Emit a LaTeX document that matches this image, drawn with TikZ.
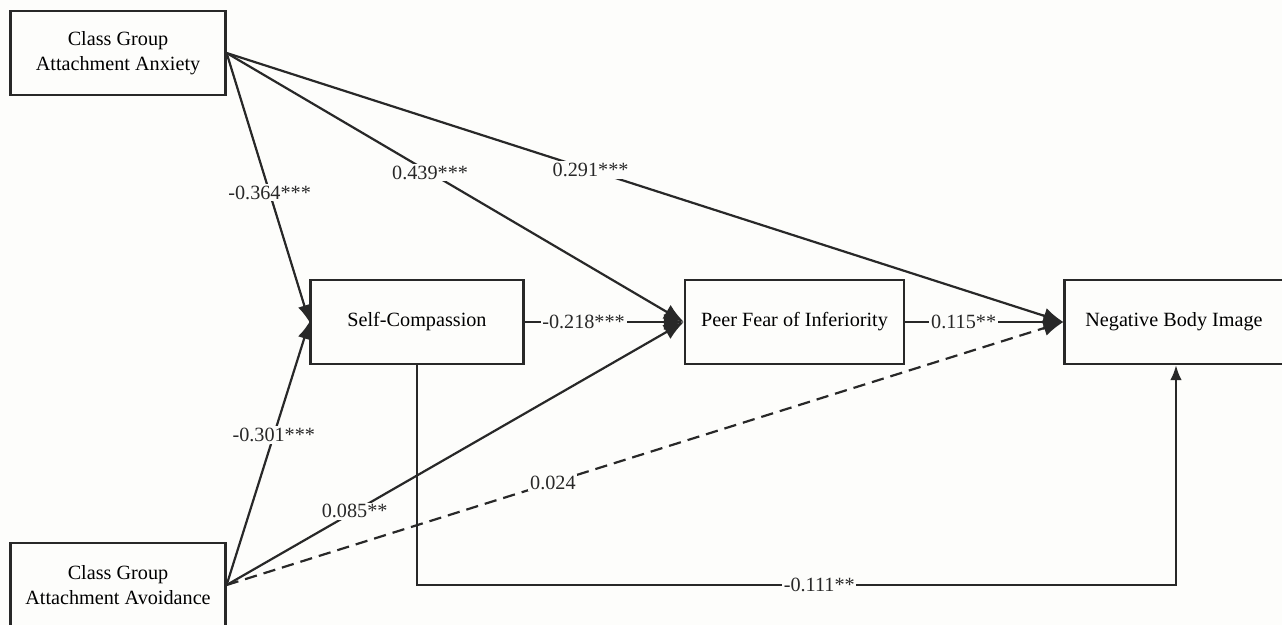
\documentclass[tikz,border=0pt]{standalone}
\usepackage{fontspec}
\setmainfont{Liberation Serif}
\usetikzlibrary{arrows.meta, positioning}

\definecolor{paper}{RGB}{253,253,251}
\definecolor{ink}{RGB}{40,40,40}

\begin{document}
\begin{tikzpicture}[x=0.02cm, y=-0.02cm, font=\fontsize{11.5}{14}\selectfont,
  var/.style={
    draw=ink,
    line width=1.3pt,
    rectangle,
    minimum width=4.3cm,
    minimum height=1.68cm,
    align=center,
    fill=paper
  },
  line/.style={-{Latex[length=4mm, width=3.2mm]}, line width=1.25pt, draw=ink},
  coef/.style={fill=paper, inner sep=1pt, text=ink}
  ]

% Background
\fill[paper] (0,0) rectangle (1282,625);
\useasboundingbox (0,0) rectangle (1282,625);

% Variables
\node[var] (anx) at (118,53) {Class Group\\Attachment Anxiety};
\node[var] (avo) at (118,585) {Class Group\\Attachment Avoidance};
\node[var, minimum width=4.26cm] (sc) at (417,322) {Self-Compassion};
\node[var, minimum width=4.38cm] (pfi) at (794.5,322) {Peer Fear of Inferiority};
\node[var, minimum width=4.38cm] (nbi) at (1174,322) {Negative Body Image};

% Paths from anxiety
\draw[line, -{Latex[length=3.4mm, width=2.6mm]}] (anx.east) -- node[coef, pos=0.52] {-0.364***} (sc.west);
\draw[line] (anx.east) -- node[coef, pos=0.445] {0.439***} (pfi.west);
\draw[line] (anx.east) -- node[coef, pos=0.435] {0.291***} (nbi.west);

% Paths from avoidance
\draw[line, -{Latex[length=3.4mm, width=2.6mm]}] (avo.east) -- node[coef, pos=0.57] {-0.301***} (sc.west);
\draw[line] (avo.east) -- node[coef, pos=0.28] {0.085**} (pfi.west);
\draw[line, dash pattern=on 7pt off 4pt] (avo.east) -- node[coef, pos=0.39] {0.024} (nbi.west);

% Mediator chain
\draw[line] (sc) -- node[coef, pos=0.37] {-0.218***} (pfi);
\draw[line] (pfi) -- node[coef, pos=0.37] {0.115**} (nbi);
\coordinate (bl) at (sc.south |- 0,585);
\coordinate (br) at (1176,585);
\draw[line, -{Latex[length=3mm, width=2.3mm]}] (sc.south) -- (bl) -- node[coef, pos=0.53] {-0.111**} (br) -- (br |- nbi.south);

\end{tikzpicture}
\end{document}
